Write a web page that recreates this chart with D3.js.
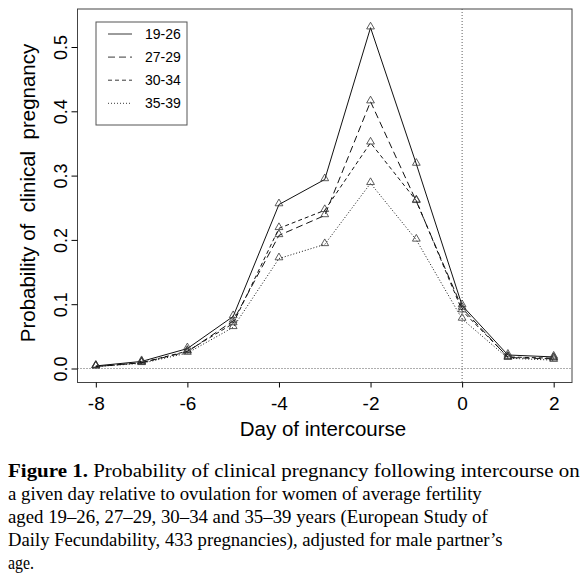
<!DOCTYPE html>
<html>
<head>
<meta charset="utf-8">
<script src="https://cdn.jsdelivr.net/npm/d3@7"></script>
<style>
  body { margin: 0; background: #fff; }
  .axis-font { font-family: "Liberation Sans", Arial, sans-serif; font-size: 18px; }
  .caption { font-family: "Liberation Serif", "Times New Roman", serif; font-size: 19px; }
</style>
</head>
<body>
<div id="chart"></div>
<script>
const days = [-8, -7, -6, -5, -4, -3, -2, -1, 0, 1, 2];
const ageGroups = ["19-26", "27-29", "30-34", "35-39"];
const p1926 = [0.004, 0.011, 0.031, 0.081, 0.255, 0.294, 0.530, 0.318, 0.098, 0.021, 0.018];
const p2729 = [0.003, 0.009, 0.026, 0.074, 0.207, 0.238, 0.415, 0.260, 0.094, 0.017, 0.015];
const p3034 = [0.003, 0.009, 0.027, 0.070, 0.218, 0.246, 0.351, 0.261, 0.090, 0.018, 0.016];
const p3539 = [0.003, 0.008, 0.024, 0.064, 0.171, 0.193, 0.288, 0.200, 0.077, 0.016, 0.013];
const xTicks = [-8, -6, -4, -2, 0, 2];
const yTicks = [0.0, 0.1, 0.2, 0.3, 0.4, 0.5];
const captionLines = [
  ["Figure 1.", " Probability of clinical pregnancy following intercourse on"],
  ["", "a given day relative to ovulation for women of average fertility"],
  ["", "aged 19\u201326, 27\u201329, 30\u201334 and 35\u201339 years (European Study of"],
  ["", "Daily Fecundability, 433 pregnancies), adjusted for male partner\u2019s"],
  ["", "age."]
];
// right end of each caption line in the reference scan
const captionEnds = [580, 482, 488, 503, 34];

const series = [p1926, p2729, p3034, p3539];
const dashes = ["none", "7,4", "4,3", "1,2"];

const width = 587, height = 578;
const box = {left: 77.5, right: 572, top: 9, bottom: 382.5};

const svg = d3.select("#chart").append("svg")
  .attr("width", width)
  .attr("height", height);

// R style: 4% padding around the data range
const x = d3.scaleLinear().domain([-8.4, 2.4]).range([box.left, box.right]);
const y = d3.scaleLinear().domain([0, 0.5]).range([368.5, 47]);

// reference lines at y = 0 and day 0
svg.append("line")
  .attr("x1", box.left).attr("x2", box.right)
  .attr("y1", y(0)).attr("y2", y(0))
  .attr("stroke", "#333").attr("stroke-width", 0.8)
  .attr("stroke-dasharray", "1,2");
svg.append("line")
  .attr("x1", x(0)).attr("x2", x(0))
  .attr("y1", box.top).attr("y2", box.bottom)
  .attr("stroke", "#333").attr("stroke-width", 0.8)
  .attr("stroke-dasharray", "1,2");

const line = d3.line()
  .x((d, i) => x(days[i]))
  .y(d => y(d));

const triangle = d3.symbol().type(d3.symbolTriangle).size(26);

series.forEach((s, k) => {
  svg.append("path")
    .datum(s)
    .attr("d", line)
    .attr("fill", "none")
    .attr("stroke", "#111")
    .attr("stroke-width", 1)
    .attr("stroke-dasharray", dashes[k]);

  svg.selectAll(".pt" + k)
    .data(s)
    .enter()
    .append("path")
    .attr("class", "pt" + k)
    .attr("d", triangle)
    .attr("transform", (d, i) => "translate(" + x(days[i]) + "," + (y(d) - 1) + ")")
    .attr("fill", "none")
    .attr("stroke", "#333")
    .attr("stroke-width", 0.8);
});

// plot frame
svg.append("rect")
  .attr("x", box.left).attr("y", box.top)
  .attr("width", box.right - box.left)
  .attr("height", box.bottom - box.top)
  .attr("fill", "none")
  .attr("stroke", "#444")
  .attr("stroke-width", 1);

// axes
const xAxis = svg.append("g")
  .attr("transform", "translate(0," + box.bottom + ")")
  .call(d3.axisBottom(x).tickValues(xTicks).tickSize(5).tickPadding(9).tickFormat(d => String(d)))
  .attr("class", "axis-font");
xAxis.select(".domain").remove();
xAxis.selectAll("text").attr("font-size", 19).attr("font-family", null).attr("fill", "#000");

const yAxis = svg.append("g")
  .attr("transform", "translate(" + box.left + ",0)")
  .call(d3.axisLeft(y).tickValues(yTicks).tickSize(6).tickFormat(d3.format(".1f")))
  .attr("class", "axis-font");
yAxis.select(".domain").remove();
yAxis.selectAll("text")
  .attr("font-size", 18).attr("font-family", null).attr("fill", "#000")
  .attr("x", null).attr("dy", null)
  .attr("text-anchor", "middle")
  .attr("transform", "translate(-11,0) rotate(-90)");

svg.append("text")
  .attr("class", "axis-font")
  .attr("x", 323)
  .attr("y", 436)
  .attr("text-anchor", "middle")
  .style("font-size", "20.5px")
  .text("Day of intercourse");

svg.append("text")
  .attr("class", "axis-font")
  .attr("transform", "translate(35,193) rotate(-90)")
  .attr("text-anchor", "middle")
  .style("font-size", "20.5px")
  .style("white-space", "pre")
  .text("Probability of  clinical  pregnancy");

// legend
const legend = svg.append("g").attr("transform", "translate(96,22)");
legend.append("rect")
  .attr("width", 91).attr("height", 103)
  .attr("fill", "#fff")
  .attr("stroke", "#555").attr("stroke-width", 1);
ageGroups.forEach((g, k) => {
  const ly = 12 + k * 23.1;
  legend.append("line")
    .attr("x1", 12).attr("x2", 36)
    .attr("y1", ly).attr("y2", ly)
    .attr("stroke", "#222").attr("stroke-width", 0.9)
    .attr("stroke-dasharray", dashes[k]);
  legend.append("text")
    .attr("class", "axis-font")
    .attr("x", 49).attr("y", ly + 5)
    .style("font-size", "14px")
    .text(g);
});

// caption, each line stretched to the width it has in the scan
captionLines.forEach((c, i) => {
  const t = svg.append("text")
    .attr("class", "caption")
    .attr("x", 0)
    .attr("y", 0);
  if (c[0]) t.append("tspan").attr("font-weight", "bold").text(c[0]);
  t.append("tspan").text(c[1]);
  const w = t.node().getComputedTextLength();
  const sx = (captionEnds[i] - 8) / w;
  t.attr("transform", "translate(8," + (477 + i * 23.1) + ") scale(" + sx + ",1)");
});
</script>
</body>
</html>
